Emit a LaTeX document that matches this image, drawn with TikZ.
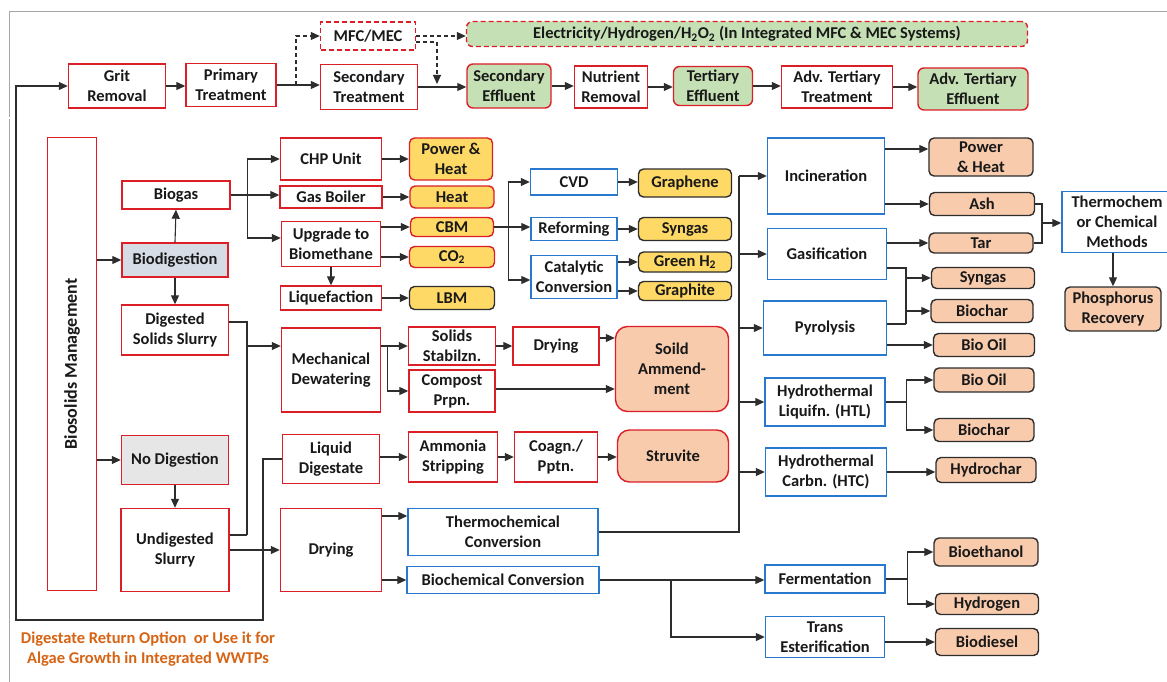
\documentclass[tikz,border=0pt]{standalone}
\usepackage{fontspec}
\setmainfont{Carlito}
\usepackage{tikz}
\usetikzlibrary{arrows.meta,shapes}

\definecolor{bred}{RGB}{220,30,38}
\definecolor{bblue}{RGB}{40,120,205}
\definecolor{linec}{RGB}{45,45,45}
\definecolor{fyellow}{RGB}{255,217,102}
\definecolor{fpeach}{RGB}{248,203,173}
\definecolor{fgreen}{RGB}{197,224,180}
\definecolor{fblue}{RGB}{214,220,229}
\definecolor{fgray}{RGB}{231,230,230}
\definecolor{torange}{RGB}{214,100,20}

\begin{document}
\begin{tikzpicture}[x=1pt,y=-1pt]

\tikzstyle{line} = [draw, linec, line width=1.1pt, -{Triangle[length=9pt,width=8pt]}]
\tikzstyle{link} = [draw, linec, line width=1.1pt]
\tikzstyle{dashline} = [line, dash pattern=on 4pt off 3pt]
\tikzstyle{frame} = [draw, gray!70, line width=1pt]
\tikzstyle{block} = [draw=bred, line width=1.4pt, fill=white, rectangle, align=center, inner sep=0pt, text=black!90, font=\fontsize{16.5}{20}\selectfont\bfseries]
\tikzstyle{bblock} = [block, draw=bblue]
\tikzstyle{gprod} = [block, fill=fgreen, rounded corners=6pt]
\tikzstyle{yprod} = [block, fill=fyellow, rounded corners=5pt]
\tikzstyle{ydark} = [yprod, draw=linec]
\tikzstyle{pprod} = [block, fill=fpeach, draw=linec, rounded corners=5pt]
\tikzstyle{rprod} = [block, fill=fpeach, rounded corners=12pt]

\useasboundingbox (0,0) rectangle (1167,682);

%frame
\path [frame] (1167,12) -- (9,12) -- (9,682);
\path [frame, double, double distance=1.2pt, line width=0.8pt] (9,118) -- (1167,118);

%wastewater line
\node [block, minimum width=97pt, minimum height=44pt] (grit) at (117,86) {Grit\\Removal};
\node [block, minimum width=90pt, minimum height=43pt] (primary) at (231,85) {Primary\\Treatment};
\node [block, dash pattern=on 5pt off 3pt, minimum width=95pt, minimum height=28pt] (mfc) at (368,36) {MFC/MEC};
\node [block, minimum width=97pt, minimum height=45pt] (secondary) at (369,87) {Secondary\\Treatment};
\node [gprod, dash pattern=on 5pt off 3pt, minimum width=561pt, minimum height=25pt] (elec) at (747,34) {Electricity/Hydrogen/H\textsubscript{2}O\textsubscript{2} (In Integrated MFC \& MEC Systems)};
\node [gprod, minimum width=84pt, minimum height=44pt] (seceff) at (509,86) {Secondary\\Effluent};
\node [block, minimum width=73pt, minimum height=42pt] (nutrient) at (611,87) {Nutrient\\Removal};
\node [gprod, minimum width=79pt, minimum height=39pt] (tereff) at (713,86) {Tertiary\\Effluent};
\node [block, minimum width=111pt, minimum height=42pt] (advtreat) at (837,87) {Adv. Tertiary\\Treatment};
\node [gprod, minimum width=110pt, minimum height=42pt] (adveff) at (973,89) {Adv. Tertiary\\Effluent};

%biosolids
\node [block, minimum width=49pt, minimum height=453pt, label={[rotate=90, text=black!90, font=\fontsize{18}{20}\selectfont\bfseries]center:Biosolids Management}] (biosol) at (72,364) {};
\node [block, minimum width=108pt, minimum height=28pt] (biogas) at (176,195) {Biogas};
\node [block, fill=fblue, minimum width=106pt, minimum height=34pt] (biodig) at (175,260) {Biodigestion};
\node [block, minimum width=107pt, minimum height=50pt] (digslurry) at (175,330) {Digested\\Solids Slurry};
\node [block, fill=fgray, minimum width=107pt, minimum height=49pt] (nodig) at (175,460) {No Digestion};
\node [block, minimum width=108pt, minimum height=83pt] (undig) at (175,550) {Undigested\\Slurry};

\node [block, minimum width=101pt, minimum height=42pt] (chp) at (331,159) {CHP Unit};
\node [block, minimum width=102pt, minimum height=22pt] (boiler) at (331,197) {Gas Boiler};
\node [block, minimum width=99pt, minimum height=45pt] (upgrade) at (331,244) {Upgrade to\\Biomethane};
\node [block, minimum width=101pt, minimum height=24pt] (liquef) at (331,298) {Liquefaction};
\node [block, minimum width=99pt, minimum height=84pt] (dewater) at (331,370) {Mechanical\\Dewatering};
\node [block, minimum width=97pt, minimum height=49pt] (liqdig) at (331,459) {Liquid\\Digestate};
\node [block, minimum width=101pt, minimum height=83pt] (drying2) at (331,550) {Drying};

\node [yprod, minimum width=83pt, minimum height=42pt] (powheat) at (451,159) {Power \&\\Heat};
\node [yprod, minimum width=84pt, minimum height=22pt] (heat) at (452,197) {Heat};
\node [yprod, minimum width=83pt, minimum height=19pt] (cbm) at (452,227) {CBM};
\node [yprod, minimum width=85pt, minimum height=21pt] (co2) at (452,257) {CO\textsubscript{2}};
\node [ydark, minimum width=85pt, minimum height=23pt] (lbm) at (452,298) {LBM};

\node [bblock, minimum width=87pt, minimum height=26pt] (cvd) at (574,182) {CVD};
\node [bblock, minimum width=86pt, minimum height=23pt] (reform) at (574,229) {Reforming};
\node [bblock, minimum width=86pt, minimum height=43pt] (catalytic) at (574,277) {Catalytic\\Conversion};
\node [ydark, minimum width=93pt, minimum height=28pt] (graphene) at (685,183) {Graphene};
\node [ydark, minimum width=93pt, minimum height=23pt] (syngasa) at (685,229) {Syngas};
\node [ydark, minimum width=93pt, minimum height=20pt] (greenh) at (685,262) {Green H\textsubscript{2}};
\node [ydark, minimum width=93pt, minimum height=19pt] (graphite) at (685,291) {Graphite};

\node [block, minimum width=87pt, minimum height=38pt] (stabil) at (452,346) {Solids\\Stabilzn.};
\node [block, minimum width=86pt, minimum height=38pt] (drying1) at (556,346) {Drying};
\node [block, minimum width=86pt, minimum height=42pt] (compost) at (452,391) {Compost\\Prpn.};
\node [rprod, minimum width=113pt, minimum height=85pt] (soil) at (672,369) {Soild\\Ammend-\\ment};
\node [block, minimum width=89pt, minimum height=50pt] (ammonia) at (453,457) {Ammonia\\Stripping};
\node [block, minimum width=83pt, minimum height=50pt] (coag) at (556,457) {Coagn./\\Pptn.};
\node [rprod, minimum width=111pt, minimum height=52pt] (struvite) at (673,456) {Struvite};
\node [bblock, minimum width=190pt, minimum height=47pt] (thermconv) at (503,532) {Thermochemical\\Conversion};
\node [bblock, minimum width=192pt, minimum height=27pt] (biochconv) at (503,580) {Biochemical Conversion};

\node [bblock, minimum width=117pt, minimum height=76pt] (incin) at (826,176) {Incineration};
\node [bblock, minimum width=119pt, minimum height=51pt] (gasif) at (827,254) {Gasification};
\node [bblock, minimum width=123pt, minimum height=54pt] (pyro) at (825,328) {Pyrolysis};
\node [bblock, minimum width=120pt, minimum height=48pt] (htl) at (825,402) {Hydrothermal\\Liquifn. (HTL)};
\node [bblock, minimum width=121pt, minimum height=48pt] (htc) at (826,472) {Hydrothermal\\Carbn. (HTC)};
\node [bblock, minimum width=120pt, minimum height=28pt] (ferment) at (825,579) {Fermentation};
\node [bblock, minimum width=119pt, minimum height=41pt] (transest) at (825,637) {Trans\\Esterification};

\node [pprod, minimum width=104pt, minimum height=38pt] (powheatb) at (981,157) {Power\\\& Heat};
\node [pprod, minimum width=105pt, minimum height=23pt] (ash) at (982,204) {Ash};
\node [pprod, minimum width=104pt, minimum height=20pt] (tar) at (981,243) {Tar};
\node [pprod, minimum width=103pt, minimum height=21pt] (syngasb) at (983,278) {Syngas};
\node [pprod, minimum width=102pt, minimum height=23pt] (biochara) at (982,311) {Biochar};
\node [pprod, minimum width=101pt, minimum height=23pt] (biooila) at (984,345) {Bio Oil};
\node [pprod, minimum width=100pt, minimum height=24pt] (biooilb) at (984,380) {Bio Oil};
\node [pprod, minimum width=100pt, minimum height=23pt] (biocharb) at (984,430) {Biochar};
\node [pprod, minimum width=100pt, minimum height=25pt] (hydrochar) at (986,470) {Hydrochar};
\node [pprod, minimum width=104pt, minimum height=28pt] (bioeth) at (986,552) {Bioethanol};
\node [pprod, minimum width=103pt, minimum height=21pt] (hydrogen) at (987,604) {Hydrogen};
\node [pprod, minimum width=103pt, minimum height=27pt] (biodiesel) at (987,642) {Biodiesel};
\node [bblock, minimum width=110pt, minimum height=61pt] (thermchem) at (1117,222) {Thermochem\\or Chemical\\Methods};
\node [pprod, minimum width=96pt, minimum height=44pt] (phosph) at (1113,309) {Phosphorus\\Recovery};

\node [align=center, text=torange, font=\fontsize{16.5}{20}\selectfont\bfseries] (returnnote) at (148,649) {Digestate Return Option\ \ or Use it for\\Algae Growth in Integrated WWTPs};

%arrows
\path [line] (grit.east) -- (grit.east -| primary.west);
\path [line] (primary.east) -- (primary.east -| secondary.west);
\path [line] (secondary.east) -- (secondary.east -| seceff.west);
\path [line] (seceff.east) -- (seceff.east -| nutrient.west);
\path [line] (nutrient.east) -- (nutrient.east -| tereff.west);
\path [line] (tereff.east) -- (tereff.east -| advtreat.west);
\path [line] (advtreat.east) -- (advtreat.east -| adveff.west);
\coordinate (split) at (296,85);
\coordinate (mfcdown) at (437,84);
\path [dashline] (split) |- (mfc.west);
\path [dashline] (mfc.east) -- (mfc.east -| elec.west);
\path [dashline] ([yshift=-6pt]mfc.east) -| (mfcdown);

\path [line] (biodig.west -| biosol.east) -- (biodig.west);
\path [line] (nodig.west -| biosol.east) -- (nodig.west);
\path [line] (biodig.north) -- (biogas.south);
\path [line] (biodig.south) -- (digslurry.north);
\path [line] (nodig.south) -- (undig.north);
\path [line] (biogas.east) -- ++(17,0) |- (chp.west);
\path [line] (biogas.east) -- (biogas.east -| boiler.west);
\path [line] (biogas.east) -- ++(17,0) |- ([yshift=6pt]upgrade.west);
\path [line] (chp.east) -- (chp.east -| powheat.west);
\path [line] (boiler.east) -- (boiler.east -| heat.west);
\path [line] (upgrade.east |- cbm) -- (cbm.west);
\path [line] (upgrade.east |- co2) -- (co2.west);
\path [line] (upgrade.south) -- (liquef.north);
\path [line] (liquef.east) -- (liquef.east -| lbm.west);
\path [line] (cbm.east) -- (cbm.east -| reform.west);
\path [line] (cbm.east) -- ++(14,0) |- (cvd.west);
\path [line] (cbm.east) -- ++(14,0) |- ([yshift=-3pt]catalytic.west);
\path [line] (cvd.east) -- (cvd.east -| graphene.west);
\path [line] (reform.east) -- (reform.east -| syngasa.west);
\path [line] (catalytic.east |- greenh) -- (greenh.west);
\path [line] (catalytic.east |- graphite) -- (graphite.west);

\coordinate (slurryjoin) at (247,535);
\path [link] ([yshift=8pt]digslurry.east) -| (slurryjoin);
\path [link] (undig.east |- slurryjoin) -- (slurryjoin);
\path [line] (slurryjoin |- 0,346) -- (dewater.west |- 0,346);
\path [line] (undig.east) -- (undig.east -| drying2.west);
\path [line] (dewater.east |- stabil) -- (stabil.west);
\path [line] (dewater.east |- stabil) -- ++(6,0) |- (compost.west);
\path [line] (stabil.east) -- (stabil.east -| drying1.west);
\path [line] (drying1.east |- 0,338) -- (soil.west |- 0,338);
\path [line] (compost.east |- 0,389) -- (soil.west |- 0,389);
\path [line] (liqdig.east |- ammonia) -- (ammonia.west);
\path [line] (ammonia.east) -- (ammonia.east -| coag.west);
\path [line] (coag.east) -- (coag.east -| struvite.west);
\coordinate (retdown) at (263,620);
\coordinate (retleft) at (16,620);
\path [line] (liqdig.west) -| (retdown) -- (retleft) |- (grit.west);
\path [line] (drying2.east |- 0,516) -- (thermconv.west |- 0,516);
\path [line] (drying2.east |- biochconv) -- (biochconv.west);

\coordinate (thtop) at (739,176);
\path [link] (thermconv.east) -| (thtop);
\path [line] (thtop) -- (incin.west);
\path [line] (gasif.west -| thtop) -- (gasif.west);
\path [line] (pyro.west -| thtop) -- (pyro.west);
\path [line] (htl.west -| thtop) -- (htl.west);
\path [line] (htc.west -| thtop) -- (htc.west);
\path [line] (incin.east |- 0,149) -- (powheatb.west |- 0,149);
\path [line] (incin.east |- ash) -- (ash.west);
\path [line] (gasif.east |- tar) -- (tar.west);
\coordinate (gpjoin) at (906,324);
\path [link] (gasif.east |- 0,268) -| (gpjoin);
\path [link] (pyro.east |- gpjoin) -- (gpjoin);
\path [line] (gpjoin |- syngasb) -- (syngasb.west);
\path [line] (gpjoin |- biochara) -- (biochara.west);
\path [line] (pyro.east |- biooila) -- (biooila.west);
\path [line] (htl.east) -- ++(21,0) |- (biooilb.west);
\path [line] (htl.east) -- ++(21,0) |- (biocharb.west);
\path [line] (htc.east) -- (htc.east -| hydrochar.west);
\coordinate (ashtar) at (1042,223);
\path [link] (ash.east) -| (ashtar) |- (tar.east);
\path [line] (ashtar) -- (ashtar -| thermchem.west);
\path [line] (thermchem.south -| phosph.north) -- (phosph.north);
\path [line] (biochconv.east) -- (biochconv.east -| ferment.west);
\path [line] (biochconv.east -| 671,0) |- (transest.west);
\path [line] (ferment.east) -- ++(22,0) |- (bioeth.west);
\path [line] (ferment.east) -- ++(22,0) |- (hydrogen.west);
\path [line] (transest.east |- biodiesel) -- (biodiesel.west);
\end{tikzpicture}
\end{document}
